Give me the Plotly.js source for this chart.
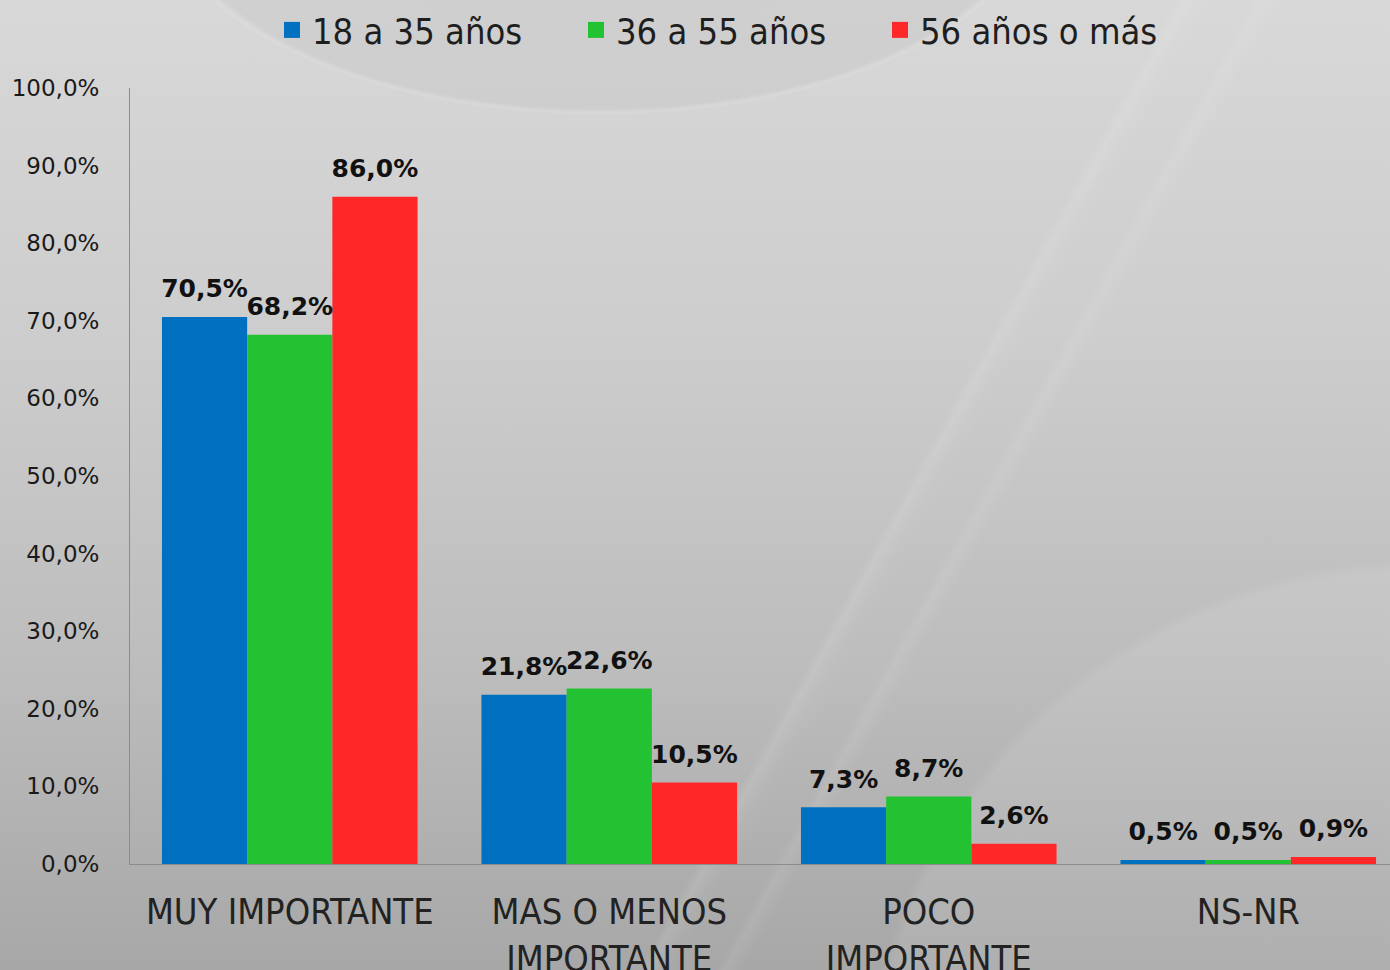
<!DOCTYPE html>
<html>
<head>
<meta charset="utf-8">
<script src="https://cdn.plot.ly/plotly-3.0.1.min.js"></script>
<style>
html,body{margin:0;padding:0;width:1390px;height:970px;overflow:hidden;}
body{
 background:
  radial-gradient(ellipse 440px 215px at 600px -100px, rgba(192,192,192,0.40) 0%, rgba(196,196,196,0.40) 97%, rgba(228,228,228,0.25) 99%, rgba(228,228,228,0) 100%),
  linear-gradient(119deg, rgba(255,255,255,0) 61%, rgba(255,255,255,0.10) 61.5%, rgba(255,255,255,0.03) 62.2%, rgba(255,255,255,0) 63%),
  linear-gradient(119deg, rgba(255,255,255,0) 65%, rgba(255,255,255,0.08) 65.5%, rgba(255,255,255,0) 66.5%),
  radial-gradient(circle 560px at 1420px 1120px, rgba(255,255,255,0.09) 0%, rgba(255,255,255,0.09) 98%, rgba(255,255,255,0) 100%),
  linear-gradient(180deg, #d8d8d8 0%, #cdcdcd 35%, #bcbcbc 70%, #a7a7a7 100%);
}
#chart{width:1410px;height:970px;}
</style>
</head>
<body>
<div id="chart"></div>
<script>
var categories = ["MUY IMPORTANTE", "MAS O MENOS<br>IMPORTANTE", "POCO<br>IMPORTANTE", "NS-NR"];
var seriesNames = ["18 a 35 años", "36 a 55 años", "56 años o más"];
var values18a35 = [70.5, 21.8, 7.3, 0.5];
var values36a55 = [68.2, 22.6, 8.7, 0.5];
var values56mas = [86.0, 10.5, 2.6, 0.9];
var colors = ["#0070C0", "#22C232", "#FF2828"];

var allValues = [values18a35, values36a55, values56mas];
var traces = [];
// bars
allValues.forEach(function(v, i){
  traces.push({
    type: "bar", x: categories, y: v, name: seriesNames[i],
    marker: {color: colors[i]}, textposition: "none",
    showlegend: false, hoverinfo: "skip"
  });
});
// value labels (grouped scatter aligned with the bars)
allValues.forEach(function(v, i){
  traces.push({
    type: "scatter", mode: "markers+text", x: categories, y: v, name: seriesNames[i],
    offsetgroup: "g" + i, alignmentgroup: "labels",
    marker: {size: 20, opacity: 0, color: colors[i]},
    texttemplate: "%{y:.1f}%", textposition: "top center", cliponaxis: false,
    textfont: {family: "DejaVu Sans", size: 25, weight: "bold", color: "#111111"},
    showlegend: false, hoverinfo: "skip"
  });
});
// legend entries
seriesNames.forEach(function(n, i){
  traces.push({
    type: "scatter", mode: "markers", x: [null], y: [null], name: n,
    offsetgroup: "g" + i, alignmentgroup: "labels",
    marker: {symbol: "square", size: 16, color: colors[i]},
    showlegend: true, hoverinfo: "skip"
  });
});

var layout = {
  width: 1410, height: 970,
  margin: {l: 130, r: 2, t: 88, b: 106, autoexpand: false},
  paper_bgcolor: "rgba(0,0,0,0)", plot_bgcolor: "rgba(0,0,0,0)",
  separators: ",.",
  barmode: "group", bargap: 0.2, bargroupgap: 0,
  scattermode: "group", scattergap: 0.2,
  xaxis: {
    range: [-0.5, 3.5], showline: true, linecolor: "#8c8c8c", linewidth: 1,
    ticks: "outside", ticklen: 16, tickcolor: "rgba(0,0,0,0)", tickangle: 0,
    tickfont: {family: "DejaVu Sans Condensed", size: 36, color: "#222222"},
    showgrid: false, zeroline: false, fixedrange: true
  },
  yaxis: {
    range: [0, 100], dtick: 10, tickformat: ".1f", ticksuffix: "%",
    showline: true, linecolor: "#8c8c8c", linewidth: 1,
    ticks: "outside", ticklen: 25, tickcolor: "rgba(0,0,0,0)",
    tickfont: {family: "DejaVu Sans", size: 23, color: "#1a1a1a"},
    showgrid: false, zeroline: false, fixedrange: true
  },
  showlegend: true,
  legend: {
    orientation: "h", xref: "container", yref: "container",
    x: 272/1410, xanchor: "left", y: 1, yanchor: "top",
    entrywidthmode: "pixels", entrywidth: 259,
    font: {family: "DejaVu Sans Condensed", size: 36, color: "#1e1e1e"},
    bgcolor: "rgba(0,0,0,0)", traceorder: "normal"
  }
};
Plotly.newPlot("chart", traces, layout, {displayModeBar: false, staticPlot: true});
</script>
</body>
</html>
